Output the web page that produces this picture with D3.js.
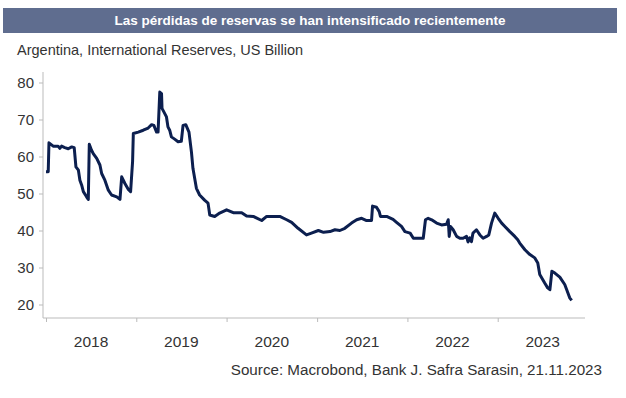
<!DOCTYPE html>
<html>
<head>
<meta charset="utf-8">
<script src="https://cdn.jsdelivr.net/npm/d3@7"></script>
<style>
  body { margin: 0; background: #fff; }
  text { font-family: "Liberation Sans", Arial, sans-serif; }
</style>
</head>
<body>
<svg id="chart" width="626" height="398"></svg>
<script>
var title = 'Las pérdidas de reservas se han intensificado recientemente'
var subtitle = 'Argentina, International Reserves, US Billion'
var source = 'Source:  Macrobond, Bank J. Safra Sarasin, 21.11.2023'

var yTicks = [20, 30, 40, 50, 60, 70, 80]
var years = [2018, 2019, 2020, 2021, 2022, 2023]

// reserves, USD bn
var dates = [
  '2018-01-01', '2018-01-10', '2018-01-13', '2018-01-30', '2018-02-19', '2018-02-26', '2018-03-05',
  '2018-03-18', '2018-04-01', '2018-04-15', '2018-04-25', '2018-05-02', '2018-05-12', '2018-05-18',
  '2018-05-25', '2018-06-01', '2018-06-14', '2018-06-21', '2018-06-25', '2018-07-04', '2018-07-11',
  '2018-07-25', '2018-08-07', '2018-08-14', '2018-08-27', '2018-09-10', '2018-09-23', '2018-10-14',
  '2018-10-27', '2018-11-03', '2018-11-16', '2018-11-30', '2018-12-09', '2018-12-17', '2018-12-20',
  '2019-01-09', '2019-01-29', '2019-02-18', '2019-03-04', '2019-03-13', '2019-03-24', '2019-03-30',
  '2019-04-06', '2019-04-13', '2019-04-15', '2019-04-23', '2019-05-03', '2019-05-09', '2019-05-16',
  '2019-05-23', '2019-06-05', '2019-06-19', '2019-07-02', '2019-07-09', '2019-07-20', '2019-08-02',
  '2019-08-12', '2019-08-18', '2019-09-01', '2019-09-14', '2019-10-04', '2019-10-18', '2019-10-25',
  '2019-11-14', '2019-12-04', '2020-01-01',
  '2020-01-28', '2020-03-02', '2020-03-22', '2020-04-18', '2020-05-22', '2020-06-11', '2020-08-03',
  '2020-08-31', '2020-09-20', '2020-10-16', '2020-11-19', '2020-12-09',
  '2021-01-06', '2021-01-27', '2021-02-22', '2021-03-14', '2021-04-03', '2021-04-23', '2021-05-20',
  '2021-06-10', '2021-06-30', '2021-07-20', '2021-08-09', '2021-08-13', '2021-08-29', '2021-09-09',
  '2021-09-14', '2021-10-09', '2021-11-04', '2021-11-18', '2021-12-08', '2021-12-22',
  '2022-01-12', '2022-01-25', '2022-03-06', '2022-03-15', '2022-03-26', '2022-04-09', '2022-04-29',
  '2022-05-19', '2022-06-08', '2022-06-15', '2022-06-19', '2022-06-24', '2022-07-05', '2022-07-19',
  '2022-08-01', '2022-08-14', '2022-08-28', '2022-09-03', '2022-09-10', '2022-09-17', '2022-09-23',
  '2022-10-07', '2022-10-21', '2022-11-03', '2022-11-17', '2022-11-26', '2022-12-07', '2022-12-20',
  '2023-01-03', '2023-01-17', '2023-01-30', '2023-02-19', '2023-03-11', '2023-03-23', '2023-03-31',
  '2023-04-21', '2023-05-11', '2023-05-31', '2023-06-12', '2023-06-20', '2023-07-10', '2023-07-22',
  '2023-07-31', '2023-08-08', '2023-08-20', '2023-09-09', '2023-09-29', '2023-10-07', '2023-10-19',
  '2023-10-27'
]
var reserves = [
  55.9, 55.9, 63.7, 62.8, 62.8, 62.2, 62.8,
  62.4, 62.1, 62.6, 62.4, 57.2, 56.3, 53.6,
  52.3, 50.5, 49.1, 48.4, 63.3, 61.7, 60.8,
  59.5, 57.7, 55.4, 53.6, 50.9, 49.6, 49.1,
  48.4, 54.5, 52.7, 51.1, 50.5, 58.6, 66.2,
  66.6, 67.1, 67.7, 68.6, 68.4, 66.6, 66.6,
  77.4, 77.0, 73.0, 72.0, 70.7, 68.0, 67.1,
  65.3, 64.7, 64.0, 64.1, 68.4, 68.6, 66.6,
  61.2, 56.8, 51.4, 49.6, 48.2, 47.4, 44.2,
  43.8, 44.7, 45.6,
  44.8, 44.8, 43.9, 43.8, 42.7, 43.8, 43.8,
  42.9, 42.2, 40.6, 38.8, 39.3,
  40.0, 39.5, 39.7, 40.2, 40.0, 40.6, 42.0,
  42.9, 43.3, 42.7, 42.7, 46.6, 46.3, 45.1,
  43.8, 43.8, 43.0, 42.2, 41.1, 39.7,
  39.3, 37.9, 37.9, 42.9, 43.3, 42.9, 42.0,
  41.5, 41.7, 42.9, 38.4, 41.1, 40.2, 38.4,
  37.9, 37.9, 38.4, 36.9, 38.0, 37.0, 39.3,
  40.2, 38.8, 37.9, 38.4, 38.8, 42.0, 44.7,
  43.3, 42.0, 41.1, 39.7, 38.4, 37.5, 36.6,
  34.8, 33.5, 32.6, 31.2, 28.1, 25.8, 24.5,
  24.0, 29.0, 28.5, 27.4, 25.4, 24.0, 21.8,
  21.1
]

var parseDate = d3.timeParse('%Y-%m-%d')
var data = dates.map(function (d, i) { return {date: parseDate(d), v: reserves[i]} })

var svg = d3.select('#chart')

// header band
svg.append('rect')
  .attr('x', 3).attr('y', 8).attr('width', 614).attr('height', 25)
  .attr('fill', '#5f6d8f')
svg.append('text')
  .attr('x', 310).attr('y', 25)
  .attr('text-anchor', 'middle')
  .attr('fill', '#fff')
  .style('font-size', '13.5px')
  .style('font-weight', 'bold')
  .text(title)

svg.append('text')
  .attr('x', 17).attr('y', 55)
  .attr('fill', '#333')
  .style('font-size', '14.5px')
  .text(subtitle)

var margin = {left: 43, top: 72, right: 585, bottom: 318}

var x = d3.scaleTime()
  .domain([parseDate('2018-01-01'), parseDate('2024-01-01')])
  .range([46, 588])

var y = d3.scaleLinear()
  .domain([20, 80])
  .range([304.5, 82.5])

// y axis
var yAxis = svg.append('g')
  .attr('transform', 'translate(' + margin.left + ',0)')
  .call(d3.axisLeft(y).tickValues(yTicks).tickSize(4).tickPadding(5))
yAxis.select('.domain').attr('d', 'M0,' + margin.top + 'V' + margin.bottom)
yAxis.selectAll('line, .domain').attr('stroke', '#bbb')
yAxis.selectAll('text')
  .attr('fill', '#333')
  .style('font-size', '15px')

// x axis
var tickDates = years.map(function (yr) { return new Date(yr, 0, 1) })
var xAxis = svg.append('g')
  .attr('transform', 'translate(0,' + margin.bottom + ')')
  .call(d3.axisBottom(x).tickValues(tickDates).tickSize(4).tickFormat(''))
xAxis.select('.domain').attr('d', 'M' + margin.left + ',0H' + margin.right)
xAxis.selectAll('line, .domain').attr('stroke', '#bbb')

// year labels sit mid-year
svg.append('g').selectAll('text')
  .data(years)
  .enter().append('text')
  .attr('x', function (d) { return x(new Date(d, 6, 2)) })
  .attr('y', 347)
  .attr('text-anchor', 'middle')
  .attr('fill', '#333')
  .style('font-size', '15.5px')
  .text(function (d) { return d })

var line = d3.line()
  .x(function (d) { return x(d.date) })
  .y(function (d) { return y(d.v) })

svg.append('path')
  .datum(data)
  .attr('d', line)
  .attr('fill', 'none')
  .attr('stroke', '#0c1f4f')
  .attr('stroke-width', 3)
  .attr('stroke-linejoin', 'round')

svg.append('text')
  .attr('x', 602).attr('y', 375)
  .attr('text-anchor', 'end')
  .attr('fill', '#333')
  .style('font-size', '15.2px')
  .text(source)
</script>
</body>
</html>
